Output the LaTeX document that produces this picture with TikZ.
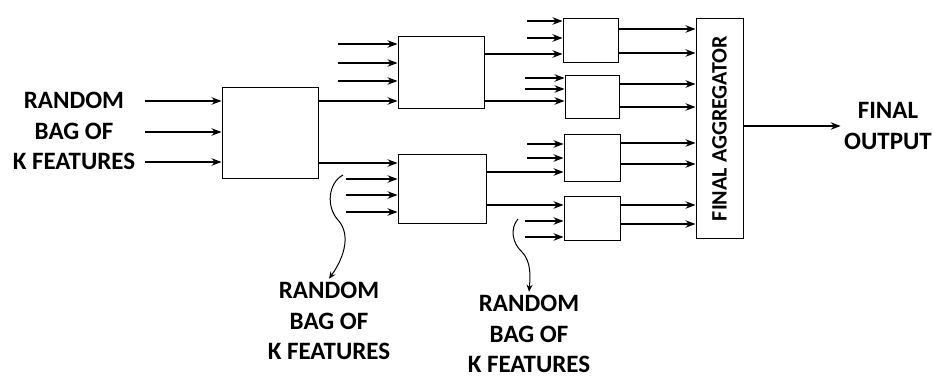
\documentclass[tikz,border=0pt]{standalone}
\usepackage{fontspec}
\setmainfont{Carlito}
\usepackage{tikz}
\usetikzlibrary{calc,arrows.meta,positioning}

\tikzset{
  blk/.style={draw,line width=1pt,inner sep=0pt,fill=white},
  feed/.style={line width=1.3pt,-{Stealth[length=10pt,width=7.5pt]}},
  curl/.style={line width=1pt,-{Stealth[length=7pt,width=6pt]}},
  lbl/.style={align=center,font=\fontsize{25}{30.5}\selectfont\bfseries}
}

\begin{document}
\begin{tikzpicture}[x=1pt,y=-1pt]
  \useasboundingbox (0,0) rectangle (934,377);

  % boxes
  \node[blk,minimum width=96pt,minimum height=90pt] (A) at (270,133) {};
  \node[blk,minimum width=86pt,minimum height=72pt] (B) at (441,73) {};
  \node[blk,minimum width=88pt,minimum height=69pt] (C) at (442,188.5) {};
  \node[blk,minimum width=55pt,minimum height=44pt] (D) at (590.5,41) {};
  \node[blk,minimum width=54pt,minimum height=43pt] (E) at (592,97.5) {};
  \node[blk,minimum width=56pt,minimum height=46pt] (F) at (592,158) {};
  \node[blk,minimum width=56pt,minimum height=44pt] (G) at (592,218) {};
  \node[blk,minimum width=47pt,minimum height=219pt] (agg) at (719.5,128.5)
    {\rotatebox{90}{\fontsize{22}{24}\selectfont\bfseries FINAL AGGREGATOR}};

  % texts
  \node[lbl] (inA) at (74,131) {RANDOM\\BAG OF\\K FEATURES};
  \node[lbl] (inC) at (329,321) {RANDOM\\BAG OF\\K FEATURES};
  \node[lbl] (inG) at (529,334) {RANDOM\\BAG OF\\K FEATURES};
  \node[lbl] (out) at (888,126) {FINAL\\OUTPUT};

  % inputs of the first box
  \foreach \y in {101,132,162}
    \draw[feed] (145,\y) -- (A.west |- 0,\y);

  % box to box
  \draw[feed] (A.east |- 0,101) -- (B.west |- 0,101);
  \draw[feed] (A.east |- 0,163) -- (C.west |- 0,163);
  \draw[feed] (B.east |- 0,54) -- (D.west |- 0,54);
  \draw[feed] (B.east |- 0,101) -- (E.west |- 0,101);
  \draw[feed] (C.east |- 0,172) -- (F.west |- 0,172);
  \draw[feed] (C.east |- 0,205) -- (G.west |- 0,205);

  % extra random features
  \foreach \y in {44,63,81}
    \draw[feed] (338,\y) -- (B.west |- 0,\y);
  \foreach \y in {179,195,212}
    \draw[feed] (346,\y) -- (C.west |- 0,\y);
  \foreach \y in {21,38}
    \draw[feed] (527,\y) -- (D.west |- 0,\y);
  \foreach \y in {78,89}
    \draw[feed] (525,\y) -- (E.west |- 0,\y);
  \foreach \y in {144,158}
    \draw[feed] (527,\y) -- (F.west |- 0,\y);
  \foreach \y in {221,237}
    \draw[feed] (525,\y) -- (G.west |- 0,\y);

  % into the aggregator
  \foreach \b/\y in {D/29,D/53,E/84,E/107,F/143,F/164,G/205,G/224}
    \draw[feed] (\b.east |- 0,\y) -- (agg.west |- 0,\y);
  \draw[feed] (agg.east |- out) -- (out.west);

  % curly pointers
  \coordinate (c1) at (343,175);
  \coordinate (c2) at (518,219);
  \draw[curl] (c1) .. controls (328,183) and (326,207) .. (338,220)
    .. controls (350,233) and (346,255) .. (inC.north);
  \draw[curl] (c2) .. controls (510,228) and (512,243) .. (522,252)
    .. controls (532,262) and (530,280) .. (inG.north);
\end{tikzpicture}
\end{document}
